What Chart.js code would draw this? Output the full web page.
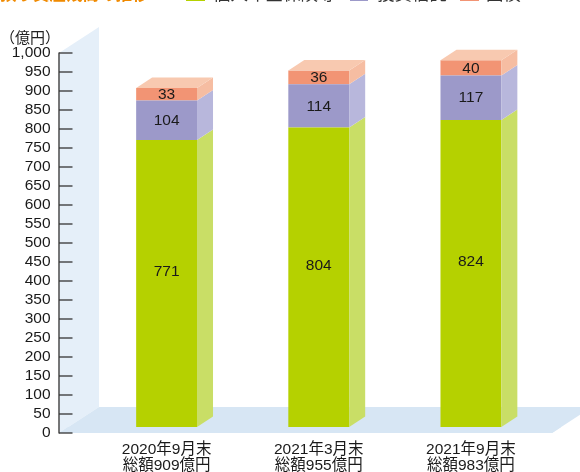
<!DOCTYPE html>
<html>
<head>
<meta charset="utf-8">
<script src="https://cdn.jsdelivr.net/npm/chart.js@4/dist/chart.umd.min.js"></script>
<style>
  html, body { margin:0; padding:0; background:#fff; overflow:hidden; }
  #wrap { position:relative; width:580px; height:472px; overflow:hidden; }
  canvas { position:absolute; left:0; top:0; }
  .t { position:absolute; white-space:nowrap; font-family:"Noto Sans CJK JP","Liberation Sans",sans-serif; line-height:16px; }
  .box { position:absolute; height:12px; }
</style>
</head>
<body>
<div id="wrap">
  <canvas id="c" width="580" height="472"></canvas>
  <div id="hdr"></div>
</div>
<script>
// ---- data ----
const periods = ['2020年9月末', '2021年3月末', '2021年9月末'];
const totals = [909, 955, 983];
const seriesNames = ['個人年金保険等', '投資信託', '国債'];
const pension = [771, 804, 824];
const funds = [104, 114, 117];
const jgb = [33, 36, 40];
const yMin = 0, yMax = 1000, yStep = 50;
const unitLabel = '（億円）';
const titleText = '預り資産残高の推移';

// ---- styles ----
const FRONT = ['#b5d100', '#9c99c9', '#f29474'];
const SIDE  = ['#c9de66', '#b8b7dc', '#f6bda2'];
const TOP   = '#f8c9b0';
const WALL = '#e5eff9', FLOOR = '#d7e6f4';
const FONT = '"Liberation Sans","Noto Sans CJK JP",sans-serif';

// header (clipped at top edge like the reference)
const hdr = document.getElementById('hdr');
function addText(txt, left, top, size, color, weight) {
  const d = document.createElement('div');
  d.className = 't'; d.textContent = txt;
  d.style.left = left + 'px'; d.style.top = top + 'px';
  d.style.fontSize = size + 'px'; d.style.color = color;
  if (weight) d.style.fontWeight = weight;
  hdr.appendChild(d);
}
function addBox(left, width, color) {
  const b = document.createElement('div');
  b.className = 'box';
  b.style.left = left + 'px'; b.style.width = width + 'px';
  b.style.top = '-11px'; b.style.background = color;
  hdr.appendChild(b);
}
addText(titleText, 0, -15, 16.5, '#f08a00', 'bold');
const legX = [186, 350, 460];
const legW = [19, 18, 19];
const legTX = [213, 377, 486];
seriesNames.forEach((n, i) => { addBox(legX[i], legW[i], FRONT[i]); addText(n, legTX[i], -15, 17.5, '#333'); });
addText(unitLabel, 0, 29, 15, '#222');

const labels = periods.map((p, i) => [p, '総額' + totals[i] + '億円']);

const DX = 16, DY = -10.4;     // bar depth
const FDX = 40, FDY = -26;     // floor/wall depth
const SINK = 6;                // floor front strip covering bar bottoms

const pseudo3d = {
  id: 'pseudo3d',
  beforeDatasetsDraw(chart) {
    const { ctx, chartArea: ca, scales: { y } } = chart;
    const ax = ca.left - 31.5;
    const y0 = y.getPixelForValue(yMin), yT = y.getPixelForValue(yMax);
    const fr = ca.right + 5;
    ctx.save();
    ctx.fillStyle = WALL;
    ctx.beginPath();
    ctx.moveTo(ax, y0); ctx.lineTo(ax, yT); ctx.lineTo(ax + FDX, yT + FDY); ctx.lineTo(ax + FDX, y0 + FDY);
    ctx.closePath(); ctx.fill();
    ctx.fillStyle = FLOOR;
    ctx.beginPath();
    ctx.moveTo(ax, y0); ctx.lineTo(fr, y0); ctx.lineTo(fr + FDX, y0 + FDY); ctx.lineTo(ax + FDX, y0 + FDY);
    ctx.closePath(); ctx.fill();
    ctx.restore();
  },
  afterDatasetsDraw(chart) {
    const { ctx, chartArea: ca, scales: { y } } = chart;
    const ax = ca.left - 31.5;
    const y0 = y.getPixelForValue(yMin), yT = y.getPixelForValue(yMax);
    const fr = ca.right + 5;
    const n = chart.data.datasets.length;
    ctx.save();
    for (let d = 0; d < n; d++) {
      const meta = chart.getDatasetMeta(d);
      meta.data.forEach((bar) => {
        const p = bar.getProps(['x', 'y', 'base', 'width'], true);
        const xl = p.x - p.width / 2, xr = p.x + p.width / 2;
        const bot = d === 0 ? p.base - SINK : p.base;
        ctx.fillStyle = SIDE[d];
        ctx.beginPath();
        ctx.moveTo(xr, p.y); ctx.lineTo(xr + DX, p.y + DY); ctx.lineTo(xr + DX, bot + DY); ctx.lineTo(xr, bot);
        ctx.closePath(); ctx.fill();
        if (d === n - 1) {
          ctx.fillStyle = TOP;
          ctx.beginPath();
          ctx.moveTo(xl, p.y); ctx.lineTo(xl + DX, p.y + DY); ctx.lineTo(xr + DX, p.y + DY); ctx.lineTo(xr, p.y);
          ctx.closePath(); ctx.fill();
        }
      });
    }
    const sdx = SINK * FDX / -FDY;
    ctx.fillStyle = FLOOR;
    ctx.beginPath();
    ctx.moveTo(ax, y0); ctx.lineTo(fr, y0); ctx.lineTo(fr + sdx, y0 - SINK); ctx.lineTo(ax + sdx, y0 - SINK);
    ctx.closePath(); ctx.fill();
    ctx.font = '15.5px ' + FONT;
    ctx.fillStyle = '#1a1a1a';
    ctx.textAlign = 'center';
    ctx.textBaseline = 'middle';
    for (let d = 0; d < n; d++) {
      const meta = chart.getDatasetMeta(d);
      const vals = chart.data.datasets[d].data;
      meta.data.forEach((bar, i) => {
        const p = bar.getProps(['x', 'y', 'base'], true);
        const off = d === 0 ? -14.5 : 0.5;
        ctx.fillText(String(vals[i]), p.x, (p.y + p.base) / 2 + off);
      });
    }
    ctx.strokeStyle = '#555';
    ctx.lineWidth = 1.6;
    ctx.beginPath(); ctx.moveTo(ax, y0 + 0.5); ctx.lineTo(ax, yT - 0.5); ctx.stroke();
    ctx.strokeStyle = '#333';
    ctx.lineWidth = 1.3;
    y.ticks.forEach(t => {
      const py = y.getPixelForValue(t.value);
      ctx.beginPath(); ctx.moveTo(ax, py); ctx.lineTo(ax + 13.5, py); ctx.stroke();
    });
    ctx.restore();
  }
};

const mk = (label, data, i) => ({
  label, data, backgroundColor: FRONT[i], borderWidth: 0,
  barPercentage: 0.4, categoryPercentage: 1.0
});

new Chart(document.getElementById('c'), {
  type: 'bar',
  data: {
    labels,
    datasets: [mk(seriesNames[0], pension, 0), mk(seriesNames[1], funds, 1), mk(seriesNames[2], jgb, 2)]
  },
  options: {
    responsive: false,
    animation: false,
    layout: { padding: { top: 53, right: 33, left: 0, bottom: 0 } },
    plugins: { legend: { display: false }, tooltip: { enabled: false } },
    scales: {
      x: {
        stacked: true,
        grid: { display: false, drawTicks: false },
        border: { display: false },
        ticks: { color: '#1a1a1a', padding: 8.5, maxRotation: 0, autoSkip: false,
                 font: { family: FONT, size: 15.5, lineHeight: 1.03 } },
        afterFit(s) { s.height = 39; s.paddingLeft = 0; s.paddingRight = 0; }
      },
      y: {
        stacked: true, min: yMin, max: yMax,
        grid: { display: false, drawTicks: false },
        border: { display: false },
        ticks: { stepSize: yStep, autoSkip: false, padding: 40, color: '#1a1a1a',
                 font: { family: FONT, size: 15.5 },
                 callback: v => v.toLocaleString('en-US') },
        afterFit(s) { s.width = 90.5; s.paddingTop = 0; s.paddingBottom = 0; }
      }
    }
  },
  plugins: [pseudo3d]
});
</script>
</body>
</html>
